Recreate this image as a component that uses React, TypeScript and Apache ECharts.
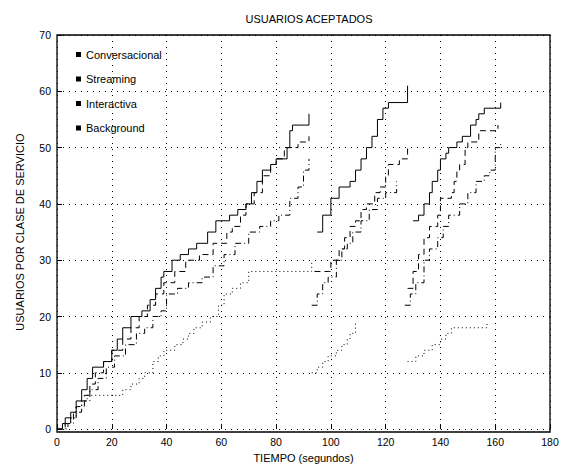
import React, { useEffect, useRef } from "react";
import * as echarts from "echarts";

const seriesNames = ["Conversacional", "Streaming", "Interactiva", "Background"];
const xTicks = [0, 20, 40, 60, 80, 100, 120, 140, 160, 180];
const yTicks = [0, 10, 20, 30, 40, 50, 60, 70];

// [tiempo, usuarios] for each run
const conv1 = [[0,0],[2,1],[3,2],[5,3],[7,5],[9,7],[11,9],[13,11],[17,12],[20,14],[22,16],[24,18],[27,20],[31,21],[34,23],[36,25],[38,27],[39,28],[42,30],[45,31],[48,32],[51,33],[55,35],[58,37],[63,38],[66,39],[69,40],[71,42],[73,44],[75,46],[78,47],[80,48],[84,50],[85,53],[86,54],[92,56]];
const conv2 = [[95,35],[97,38],[100,41],[103,43],[107,44],[109,46],[111,48],[113,50],[115,52],[117,55],[119,57],[121,58],[128,61]];
const conv3 = [[130,37],[132,38],[134,40],[136,42],[137,44],[139,46],[140,48],[142,49],[143,50],[146,51],[148,52],[151,54],[153,55],[154,56],[156,57],[162,58]];

const str1 = [[0,0],[3,1],[5,2],[7,4],[10,6],[12,8],[14,10],[17,12],[20,14],[24,16],[27,18],[30,20],[33,22],[36,24],[39,26],[43,28],[47,30],[52,31],[57,33],[62,35],[64,36],[67,38],[69,40],[72,42],[75,45],[78,47],[80,48],[83,50],[88,51],[92,52]];
const str2 = [[94,28],[99,28],[100,30],[103,32],[105,34],[107,36],[109,37],[111,39],[113,40],[116,42],[118,43],[120,45],[121,47],[125,48],[128,50]];
const str3 = [[128,25],[130,28],[132,31],[134,34],[136,36],[139,38],[140,41],[144,42],[145,44],[146,46],[147,47],[149,50],[150,51],[154,53],[161,54]];

const int1 = [[0,0],[4,1],[6,3],[9,5],[12,7],[15,9],[18,11],[21,13],[25,15],[29,17],[32,18],[35,20],[38,21],[40,24],[44,25],[48,26],[53,27],[57,29],[61,31],[65,33],[70,35],[74,36],[78,37],[81,38],[85,41],[88,43],[90,46],[92,48]];
const int2 = [[93,22],[95,24],[97,26],[99,27],[102,30],[104,32],[106,33],[108,35],[111,37],[114,39],[117,41],[120,42],[124,44]];
const int3 = [[127,22],[129,24],[131,26],[134,30],[136,32],[139,34],[141,36],[143,38],[147,40],[150,42],[153,44],[156,45],[158,46],[160,50],[162,51]];

const bg1 = [[0,0],[3,1],[5,2],[7,4],[9,5],[11,6],[24,7],[27,8],[30,9],[32,10],[35,12],[37,13],[39,14],[43,15],[46,16],[48,17],[50,18],[53,19],[56,20],[59,22],[61,24],[64,25],[67,26],[70,28],[85,28],[93,30]];
const bg2 = [[93,10],[95,11],[97,12],[99,13],[102,14],[104,15],[106,16],[107,17],[109,19]];
const bg3 = [[128,12],[131,13],[134,14],[137,15],[140,16],[142,17],[144,18],[157,19]];

const runs = [
  [conv1, conv2, conv3],
  [str1, str2, str3],
  [int1, int2, int3],
  [bg1, bg2, bg3],
];

const dashes: any[] = ["solid", [6, 4], [6, 3, 1, 3], [1, 3]];

const G_LEFT = 57;
const G_TOP = 35;
const G_RIGHT = 12;
const G_BOTTOM = 36;
const W = 562;
const H = 468;

export default function App() {
  const ref = useRef<HTMLDivElement>(null);
  useEffect(() => {
    if (!ref.current) return;
    const chart = echarts.init(ref.current, null, { renderer: "svg" });
    const font = "Liberation Sans, Arial, sans-serif";
    const series: any[] = [];
    runs.forEach((segs, i) => {
      segs.forEach((seg) => {
        series.push({
          name: seriesNames[i],
          type: "line",
          step: "end",
          data: seg,
          showSymbol: false,
          symbol: "rect",
          symbolSize: 5,
          itemStyle: { color: "#000" },
          lineStyle: { color: "#000", width: 1, type: dashes[i] },
          xAxisIndex: 0,
          yAxisIndex: 0,
        });
      });
    });
    chart.setOption({
      animation: false,
      backgroundColor: "#fff",
      title: {
        text: "USUARIOS ACEPTADOS",
        left: 304,
        textAlign: "center",
        top: 8,
        textStyle: { fontSize: 11, fontWeight: "normal", color: "#000", fontFamily: font },
      },
      legend: {
        data: seriesNames,
        orient: "vertical",
        left: 71,
        top: 44,
        itemWidth: 5,
        itemHeight: 5,
        itemGap: 13.5,
        icon: "rect",
        textStyle: { fontSize: 11, color: "#000", fontFamily: font },
      },
      grid: { left: G_LEFT, right: G_RIGHT, top: G_TOP, bottom: G_BOTTOM },
      graphic: [
        {
          type: "rect",
          silent: true,
          z: 100,
          shape: {
            x: G_LEFT,
            y: G_TOP,
            width: W - G_LEFT - G_RIGHT,
            height: H - G_TOP - G_BOTTOM,
          },
          style: { fill: "none", stroke: "#000", lineWidth: 1.3 },
        },
      ],
      xAxis: [
        {
          type: "value",
          min: 0,
          max: 180,
          interval: 20,
          name: "TIEMPO (segundos)",
          nameLocation: "middle",
          nameGap: 22,
          nameTextStyle: { fontSize: 11, color: "#000", fontFamily: font },
          axisLine: { show: false, onZero: false },
          axisTick: { inside: true, length: 5, lineStyle: { color: "#000" } },
          axisLabel: { fontSize: 10.5, color: "#000", fontFamily: font, margin: 7 },
          splitLine: { show: true, lineStyle: { color: "#000", type: [1, 5], width: 1 } },
        },
      ],
      yAxis: [
        {
          type: "value",
          min: 0,
          max: 70,
          interval: 10,
          name: "USUARIOS POR CLASE DE SERVICIO",
          nameLocation: "middle",
          nameGap: 32,
          nameTextStyle: { fontSize: 11, color: "#000", fontFamily: font },
          axisLine: { show: false, onZero: false },
          axisTick: { show: true, inside: true, length: 5, lineStyle: { color: "#000" } },
          axisLabel: { fontSize: 10.5, color: "#000", fontFamily: font, margin: 6 },
          splitLine: { show: true, lineStyle: { color: "#000", type: [1, 5], width: 1 } },
        },
      ],
      series,
    });
    return () => chart.dispose();
  }, []);
  return (
    <div
      ref={ref}
      style={{ position: "absolute", left: 0, top: 0, width: W, height: H }}
    />
  );
}
